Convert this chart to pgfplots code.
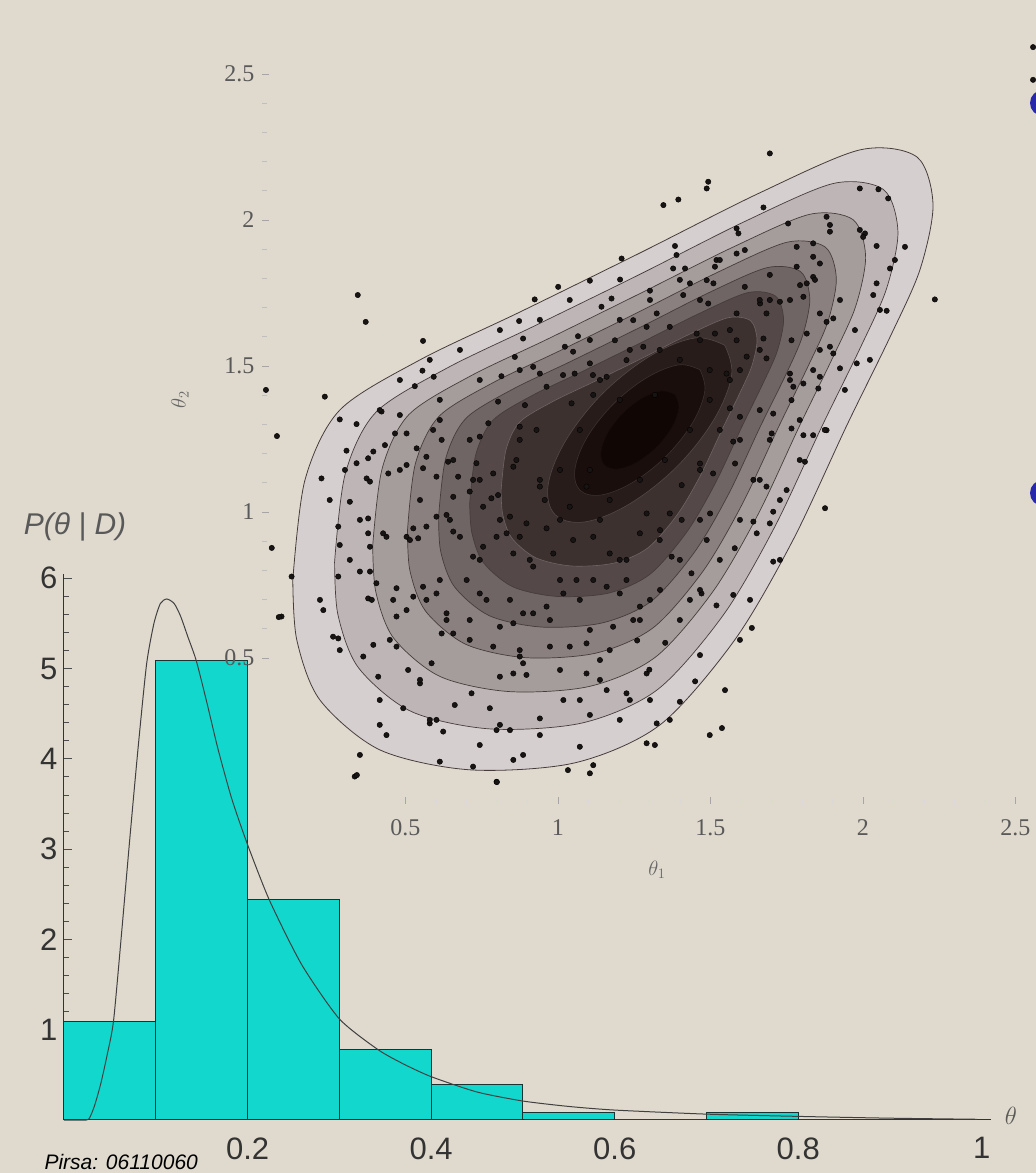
\documentclass[border=0pt]{standalone}
\usepackage{pgfplots}
\pgfplotsset{compat=1.18}
\usepackage{fontspec}
\setmainfont{Liberation Sans}
\newfontfamily\serifc{Liberation Serif}
\definecolor{bg}{RGB}{224,218,206}
\definecolor{cy}{RGB}{18,215,205}
\definecolor{edgec}{RGB}{25,50,50}
\definecolor{c0}{RGB}{214,207,207}
\definecolor{c1}{RGB}{190,182,182}
\definecolor{c2}{RGB}{165,156,156}
\definecolor{c3}{RGB}{138,128,128}
\definecolor{c4}{RGB}{111,101,100}
\definecolor{c5}{RGB}{84,73,72}
\definecolor{c6}{RGB}{60,49,47}
\definecolor{c7}{RGB}{39,28,26}
\definecolor{c8}{RGB}{25,14,12}
\definecolor{c9}{RGB}{16,6,4}
\definecolor{cl}{RGB}{70,60,60}
\definecolor{dotc}{RGB}{25,20,20}
\definecolor{bluec}{RGB}{40,40,170}
\begin{document}
\begin{tikzpicture}
\useasboundingbox (0pt,0pt) rectangle (1036pt,1173pt);
\clip (0pt,0pt) rectangle (1036pt,1173pt);
\fill[bg] (0pt,0pt) rectangle (1036pt,1173pt);
\fill[bluec] (1043pt,1070pt) circle (13pt);
\fill[bluec] (1043pt,680pt) circle (13pt);

% ---------------- histogram ----------------
\begin{axis}[
  at={(64pt,53pt)}, anchor=south west, scale only axis,
  width=927pt, height=546.3pt,
  xmin=0, xmax=1.01, ymin=0, ymax=6.05,
  axis x line=bottom, axis y line=left,
  axis line style={-, draw=black!80, line width=1pt},
  xtick={0.2,0.4,0.6,0.8,1}, xticklabels={0.2,0.4,0.6,0.8,1},
  ytick={1,2,3,4,5,6}, minor y tick num=4,
  tick align=inside, major tick length=8pt, minor tick length=5pt,
  ytick style={black!70, line width=0.8pt},
  minor tick style={black!60, line width=0.7pt},
  xtick style={draw=none},
  /pgf/number format/assume math mode=true,
  tick label style={font=\fontsize{31}{31}\selectfont, text=black!80},
  yticklabel style={xshift=-3pt},
  xticklabel style={yshift=-14pt},
  clip=false,
]
\addplot[ybar interval, fill=cy, draw=edgec, line width=1pt] coordinates {
 (0,1.09) (0.1,5.09) (0.2,2.44) (0.3,0.78) (0.4,0.39) (0.5,0.08) (0.6,0) (0.7,0.085) (0.8,0)};
\addplot[black!75, line width=1pt, smooth, tension=0.4] coordinates {
 (0.000,0.000) (0.020,0.000) (0.027,0.010) (0.033,0.15) (0.040,0.40) (0.047,0.72)
 (0.054,1.10) (0.063,2.10) (0.072,3.15) (0.081,4.15) (0.090,5.05) (0.098,5.50)
 (0.105,5.72) (0.112,5.77) (0.120,5.72) (0.127,5.58) (0.135,5.35) (0.144,5.09)
 (0.155,4.65) (0.168,4.10) (0.183,3.55) (0.200,3.05) (0.224,2.43) (0.259,1.72)
 (0.300,1.12) (0.342,0.78) (0.370,0.62) (0.400,0.48) (0.450,0.31) (0.500,0.21)
 (0.550,0.15) (0.600,0.11) (0.700,0.065) (0.800,0.04) (0.900,0.02) (0.995,0.008)};
\end{axis}
\node[font=\itshape\fontsize{30}{30}\selectfont, text=black!65] at (75pt,646pt) {P(θ\;|\;D)};
\node[text=black!65, font=\fontsize{28}{28}\selectfont] at (1011pt,57pt) {$\theta$};
\node[anchor=base west, font=\itshape\fontsize{21}{21}\selectfont] at (41pt,3pt) {Pirsa: 06110060};

% ---------------- contour plot ----------------
\begin{axis}[
  at={(262pt,369pt)}, anchor=south west, scale only axis,
  width=773.8pt, height=803pt,
  xmin=0.03, xmax=2.567, ymin=0, ymax=2.75,
  axis x line=bottom, axis y line=left,
  axis line style={draw=none},
  xtick={0.5,1,1.5,2,2.5}, ytick={0.5,1,1.5,2,2.5},
  minor x tick num=4, minor y tick num=4,
  tick align=inside, major tick length=7pt, minor tick length=5pt,
  tick style={black!35, line width=0.6pt},
  minor y tick style={black!25, line width=0.6pt},
  minor x tick style={black!15, line width=0.6pt},
  /pgf/number format/assume math mode=true,
  tick label style={font=\serifc\fontsize{24}{24}\selectfont, text=black!65},
  yticklabel style={xshift=-4pt},
  xticklabel style={yshift=-12pt},
  clip=false,
]
\addplot[fill=c0, draw=cl, line width=0.8pt, smooth, tension=0.5] coordinates {
(0.131,0.767) (0.171,1.110) (0.285,1.349) (0.548,1.521) (0.876,1.685) (1.269,1.887) (1.662,2.093) (1.990,2.240) (2.177,2.216) (2.230,2.052) (2.187,1.829) (2.089,1.599) (1.948,1.298) (1.771,0.904) (1.580,0.562) (1.335,0.271) (1.056,0.141) (0.712,0.117) (0.417,0.185) (0.220,0.356) (0.144,0.562) (0.131,0.767)} -- cycle;
\addplot[fill=c1, draw=cl, line width=0.7pt, smooth, tension=0.5] coordinates {
(0.268,0.829) (0.303,1.131) (0.403,1.341) (0.635,1.492) (0.923,1.637) (1.269,1.814) (1.615,1.996) (1.903,2.125) (2.068,2.104) (2.115,1.959) (2.077,1.763) (1.991,1.561) (1.867,1.296) (1.711,0.949) (1.543,0.648) (1.327,0.392) (1.082,0.278) (0.779,0.257) (0.519,0.317) (0.346,0.467) (0.279,0.648) (0.268,0.829)} -- cycle;
\addplot[fill=c2, draw=cl, line width=0.7pt, smooth, tension=0.5] coordinates {
(0.393,0.885) (0.424,1.149) (0.511,1.333) (0.714,1.466) (0.966,1.592) (1.269,1.748) (1.572,1.906) (1.824,2.019) (1.968,2.001) (2.009,1.875) (1.976,1.703) (1.900,1.526) (1.792,1.294) (1.656,0.991) (1.508,0.727) (1.320,0.503) (1.105,0.403) (0.840,0.385) (0.613,0.437) (0.461,0.569) (0.403,0.727) (0.393,0.885)} -- cycle;
\addplot[fill=c3, draw=cl, line width=0.7pt, smooth, tension=0.5] coordinates {
(0.507,0.937) (0.533,1.166) (0.610,1.327) (0.786,1.442) (1.006,1.552) (1.269,1.687) (1.532,1.825) (1.752,1.924) (1.877,1.907) (1.913,1.798) (1.884,1.648) (1.818,1.494) (1.724,1.292) (1.605,1.028) (1.477,0.799) (1.313,0.604) (1.126,0.517) (0.896,0.501) (0.698,0.547) (0.566,0.661) (0.515,0.799) (0.507,0.937)} -- cycle;
\addplot[fill=c4, draw=cl, line width=0.7pt, smooth, tension=0.5] coordinates {
(0.609,0.983) (0.632,1.182) (0.698,1.320) (0.851,1.420) (1.041,1.515) (1.269,1.632) (1.497,1.752) (1.687,1.837) (1.796,1.823) (1.826,1.728) (1.801,1.599) (1.745,1.465) (1.663,1.291) (1.560,1.062) (1.449,0.864) (1.307,0.695) (1.145,0.620) (0.946,0.606) (0.775,0.645) (0.661,0.744) (0.616,0.864) (0.609,0.983)} -- cycle;
\addplot[fill=c5, draw=cl, line width=0.7pt, smooth, tension=0.5] coordinates {
(0.711,1.029) (0.731,1.197) (0.787,1.314) (0.916,1.399) (1.076,1.479) (1.269,1.578) (1.462,1.679) (1.622,1.751) (1.714,1.739) (1.740,1.659) (1.719,1.550) (1.671,1.437) (1.602,1.289) (1.515,1.096) (1.421,0.929) (1.301,0.786) (1.165,0.722) (0.996,0.711) (0.852,0.744) (0.755,0.828) (0.718,0.929) (0.711,1.029)} -- cycle;
\addplot[fill=c6, draw=c4, line width=0.6pt, smooth, tension=0.5] coordinates {
(0.814,1.075) (0.830,1.213) (0.875,1.308) (0.981,1.377) (1.112,1.443) (1.269,1.523) (1.426,1.606) (1.557,1.665) (1.632,1.655) (1.653,1.589) (1.636,1.500) (1.597,1.408) (1.541,1.288) (1.470,1.130) (1.393,0.993) (1.295,0.877) (1.184,0.825) (1.046,0.815) (0.928,0.843) (0.849,0.911) (0.819,0.993) (0.814,1.075)} -- cycle;
\addplot[fill=c7, draw=c5, line width=0.6pt, smooth, tension=0.6] coordinates {
(1.547,1.571) (1.450,1.596) (1.304,1.535) (1.148,1.407) (1.026,1.245) (0.968,1.092) (0.991,0.991) (1.088,0.966) (1.234,1.027) (1.390,1.155) (1.512,1.317) (1.570,1.470) (1.547,1.571)} -- cycle;
\addplot[fill=c8, draw=c6, line width=0.6pt, smooth, tension=0.6] coordinates {
(1.466,1.487) (1.397,1.504) (1.293,1.461) (1.183,1.371) (1.096,1.256) (1.056,1.147) (1.072,1.075) (1.141,1.058) (1.245,1.101) (1.355,1.191) (1.442,1.306) (1.482,1.415) (1.466,1.487)} -- cycle;
\addplot[fill=c9, draw=c8, line width=0.6pt, smooth, tension=0.6] coordinates {
(1.385,1.402) (1.341,1.415) (1.279,1.392) (1.213,1.339) (1.163,1.271) (1.141,1.205) (1.153,1.160) (1.197,1.147) (1.259,1.170) (1.325,1.223) (1.375,1.291) (1.397,1.357) (1.385,1.402)} -- cycle;

% scatter points
\addplot[only marks, mark=*, mark size=2.7pt, mark options={fill=dotc, draw=none}] coordinates {
(0.531,1.431) (0.236,1.395) (0.422,1.344) (0.482,1.332) (0.285,1.317) (0.340,1.301) (0.307,1.210) (0.395,1.207)
(0.466,1.269) (0.504,1.269) (0.591,1.281) (0.619,1.247) (0.537,1.218) (0.569,1.189) (0.640,1.172) (0.657,1.178)
(0.744,1.258) (0.804,1.378) (0.892,1.366) (0.772,1.304) (0.875,1.292) (0.930,1.281) (0.963,1.429) (1.045,1.372)
(1.116,1.401) (0.225,1.115) (0.340,1.167) (0.378,1.184) (0.373,1.115) (0.384,1.104) (0.444,1.132) (0.504,1.161)
(0.558,1.150) (0.602,1.121) (0.673,1.121) (0.722,1.110) (0.788,1.132) (0.854,1.155) (0.864,1.178) (0.733,1.167)
(0.318,1.035) (0.378,0.978) (0.280,0.950) (0.378,0.927) (0.438,0.915) (0.384,0.881) (0.285,0.887) (0.427,0.927)
(0.504,0.915) (0.542,0.910) (0.526,0.944) (0.569,0.950) (0.602,0.984) (0.635,0.990) (0.657,1.052) (0.711,1.070)
(0.755,1.018) (0.782,1.047) (0.804,1.058) (0.843,0.984) (0.897,0.961) (0.963,0.944) (1.007,0.973) (1.039,1.018)
(1.094,1.087) (0.941,1.087) (0.657,0.933) (0.679,0.915) (0.722,0.847) (0.755,0.881) (0.799,0.915) (0.832,0.927)
(0.875,0.915) (0.854,0.858) (0.919,0.813) (0.985,0.858) (1.050,0.904) (1.116,0.915) (1.170,0.858) (1.225,0.836)
(1.269,0.927) (1.291,0.995) (0.127,0.779) (0.351,0.796) (0.384,0.796) (0.280,0.779) (0.405,0.756) (0.471,0.739)
(0.558,0.744) (0.602,0.721) (0.635,0.653) (0.569,0.699) (0.526,0.710) (0.504,0.664) (0.471,0.642) (0.460,0.699)
(0.378,0.704) (0.231,0.664) (0.094,0.642) (0.263,0.573) (0.280,0.567) (0.362,0.505) (0.395,0.545) (0.471,0.539)
(0.509,0.459) (0.586,0.482) (0.619,0.584) (0.635,0.630) (0.701,0.767) (0.744,0.721) (0.766,0.699) (0.810,0.607)
(0.854,0.619) (0.886,0.653) (0.919,0.653) (0.963,0.676) (1.018,0.721) (1.061,0.767) (1.116,0.767) (1.160,0.744)
(1.225,0.767) (1.203,0.721) (1.269,0.676) (1.247,0.630) (1.181,0.607) (1.094,0.550) (1.039,0.539) (0.974,0.539)
(0.886,0.482) (0.854,0.447) (0.897,0.442) (0.875,0.505) (0.788,0.539) (0.711,0.562) (0.657,0.584) (0.411,0.436)
(0.548,0.413) (0.717,0.379) (0.777,0.328) (0.810,0.436) (0.941,0.293) (1.018,0.356) (1.094,0.447) (1.138,0.493)
(1.160,0.390) (1.105,0.305) (1.225,0.379) (1.291,0.447) (0.580,0.276) (0.602,0.288) (0.624,0.248) (0.799,0.253)
(0.843,0.253) (0.438,0.236) (0.416,0.271) (0.493,0.328) (0.351,0.168) (0.613,0.145) (0.722,0.128) (0.854,0.151)
(0.886,0.168) (1.072,0.196) (1.116,0.133) (1.291,0.208) (1.324,0.276) (0.334,0.094) (0.799,0.076) (1.105,0.105)
(1.695,2.228) (1.493,2.131) (1.488,2.108) (1.346,2.051) (1.395,2.070) (1.990,2.108) (2.051,2.105) (2.083,2.074)
(1.674,2.043) (1.881,2.011) (1.586,1.971) (1.592,1.954) (1.755,1.988) (1.892,1.960) (2.007,1.954) (2.001,1.942)
(2.138,1.908) (2.045,1.911) (1.384,1.911) (1.389,1.880) (1.209,1.868) (1.586,1.885) (1.783,1.908) (1.837,1.920)
(1.837,1.874) (1.859,1.851) (1.783,1.840) (1.520,1.863) (1.515,1.840) (1.378,1.834) (1.417,1.834) (2.089,1.834)
(2.045,1.783) (2.034,1.743) (2.236,1.728) (2.078,1.689) (1.837,1.805) (1.816,1.783) (1.794,1.777) (1.613,1.771)
(1.488,1.794) (1.510,1.783) (1.433,1.783) (1.302,1.758) (1.204,1.796) (1.143,1.703) (1.176,1.731) (1.411,1.743)
(1.493,1.714) (1.663,1.714) (1.695,1.726) (1.728,1.720) (1.805,1.737) (1.859,1.680) (1.903,1.663) (1.881,1.651)
(1.816,1.611) (1.684,1.680) (1.586,1.680) (1.324,1.680) (1.247,1.657) (1.291,1.634) (1.367,1.634) (1.455,1.611)
(1.515,1.611) (1.674,1.594) (1.766,1.588) (1.586,1.588) (1.187,1.588) (1.280,1.566) (1.892,1.566) (1.903,1.543)
(1.980,1.509) (1.925,1.492) (1.837,1.486) (1.761,1.474) (1.859,1.463) (1.805,1.440) (1.772,1.429) (1.160,1.463)
(1.225,1.520) (1.619,1.532) (1.684,1.526) (1.553,1.474) (1.766,1.383) (1.706,1.337) (1.854,1.423) (1.564,1.355)
(1.597,1.326) (1.466,1.166) (1.575,1.241) (1.766,1.286) (1.805,1.263) (1.837,1.263) (1.881,1.280) (1.701,1.269)
(1.810,1.172) (1.581,1.166)
(0.558,1.586) (1.105,1.792) (1.001,1.771) (0.924,1.728) (0.873,1.654) (0.886,1.594) (0.859,1.531) (0.556,1.484)
(0.593,1.463) (0.815,1.465) (0.919,1.497) (0.941,1.474) (1.017,1.469) (1.050,1.549) (1.066,1.602) (1.023,1.566)
(1.105,1.509) (1.115,1.469) (1.055,1.474)
(1.406,1.092) (1.509,1.132) (1.641,1.110) (1.684,1.087) (1.750,1.075) (1.876,1.013) (1.706,1.001) (1.695,0.961)
(1.641,0.967) (1.652,0.927) (1.580,0.876) (1.488,0.904) (1.499,0.995) (1.406,0.973) (1.367,0.995) (1.335,0.938)
(1.373,0.847) (1.438,0.790) (1.335,0.733) (1.471,0.721) (1.575,0.716) (1.706,0.830)
(0.344,1.743) (0.370,1.651) (0.043,1.418) (0.079,1.260) (0.062,0.877) (0.085,0.640) (2.558,2.592) (2.558,2.480)
(0.341,0.099) (0.800,0.075) (1.033,0.116) (1.400,0.630) (1.466,0.510) (1.597,0.562) (1.636,0.603) (1.548,0.390)
(1.498,0.236) (1.538,0.260) (1.367,0.288) (1.318,0.202) (1.236,0.356) (1.433,0.699) (1.728,0.836) (1.300,0.460)
(1.352,0.552) (1.520,0.680) (1.450,0.420) (1.260,0.560) (1.400,0.350)
(1.138,1.452) (1.203,1.384) (1.318,1.401) (1.400,1.521) (1.466,1.589) (1.105,1.144) (1.170,1.041) (1.269,1.110)
(1.351,1.178) (1.433,1.281) (1.498,1.384) (1.072,1.281) (1.007,1.144) (0.957,1.041) (1.138,0.973) (1.466,1.144)
(1.531,1.281) (1.564,1.452) (1.334,1.555) (1.236,1.555)
(0.302,1.144) (0.351,0.973) (0.318,0.836) (0.390,0.699) (0.449,0.562) (0.548,0.425) (0.662,0.339) (0.810,0.271)
(0.941,0.236) (0.482,1.144) (0.548,1.041) (0.515,0.904) (0.613,0.767) (0.711,0.630) (0.875,0.527) (1.007,0.459)
(1.138,0.425) (0.646,0.973) (0.744,0.836) (0.843,0.699) (0.974,0.630) (1.105,0.596) (0.744,1.110) (0.810,0.973)
(0.908,0.836) (1.007,0.767) (0.875,1.247) (0.941,1.110) (0.711,1.247) (0.613,1.315) (0.433,1.229) (0.252,1.041)
(0.220,0.699) (0.285,0.527) (0.416,0.356) (0.580,0.288) (0.744,0.202) (1.203,0.288) (1.302,0.356) (1.072,0.356)
(1.531,1.863) (1.613,1.897) (1.695,1.812) (1.662,1.726) (1.761,1.726) (1.843,1.795) (1.925,1.726) (1.974,1.623)
(2.056,1.692) (2.023,1.521) (1.941,1.418) (1.859,1.555) (1.761,1.452) (1.662,1.349) (1.597,1.247) (1.695,1.247)
(1.793,1.315) (1.875,1.281) (1.466,1.726) (1.400,1.795) (1.302,1.726) (1.203,1.658) (1.105,1.589) (1.564,1.623)
(1.662,1.555) (1.597,1.486) (1.498,1.486) (2.105,1.863) (1.990,1.966) (1.892,1.983)
(1.662,1.110) (1.728,1.041) (1.597,0.973) (1.531,0.836) (1.466,0.733) (1.400,0.836) (1.302,0.699) (1.334,0.904)
(1.466,0.973) (1.203,0.836) (1.269,0.630) (1.170,0.527) (1.072,0.699) (1.793,1.178) (1.630,0.699)
(0.482,1.452) (0.580,1.521) (0.679,1.555) (0.810,1.623) (0.941,1.658) (1.039,1.726) (0.744,1.452) (0.875,1.486)
(0.613,1.384) (0.416,1.349)};
\node[text=black!60, font=\fontsize{20}{20}\selectfont] at (axis cs:1.325,-0.225) {$\theta_1$};
\node[text=black!60, font=\fontsize{20}{20}\selectfont, rotate=90] at (axis cs:-0.239,1.384) {$\theta_2$};
\end{axis}
\end{tikzpicture}
\end{document}
